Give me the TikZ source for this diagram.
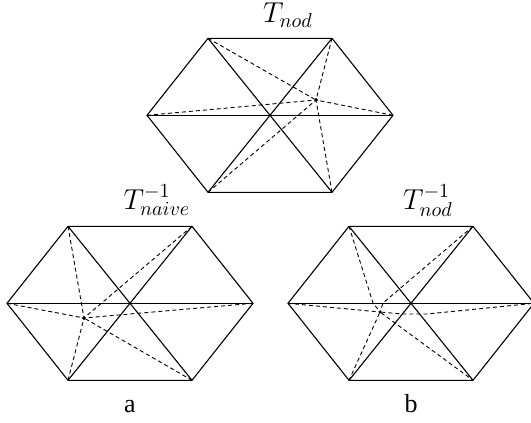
\documentclass[tikz,border=0pt]{standalone}
\usepackage{fontspec}
\setmainfont{Liberation Serif}

% hexagon split into six triangles, corners named from the first argument
\newcommand*{\hexagon}[3]{
	\coordinate (#1c) at (#2,#3);
	\coordinate (#1l) at (#2-123,#3);
	\coordinate (#1r) at (#2+123,#3);
	\coordinate (#1tl) at (#2-62,#3-77);
	\coordinate (#1tr) at (#2+62,#3-77);
	\coordinate (#1bl) at (#2-62,#3+77);
	\coordinate (#1br) at (#2+62,#3+77);
	\draw[edge] (#1l) -- (#1tl) -- (#1tr) -- (#1r) -- (#1br) -- (#1bl) -- cycle;
	\draw[edge] (#1l) -- (#1r);
	\draw[edge] (#1tl) -- (#1br);
	\draw[edge] (#1tr) -- (#1bl);
}

\begin{document}

\begin{tikzpicture}
[
	x=0.5pt,
	y=-0.5pt,
	edge/.style={line width=0.55pt},
	warp/.style={line width=0.45pt,dashed,dash pattern=on 2pt off 1.5pt},
	closedpt/.style={circle,draw,fill,inner sep=0pt,minimum size=1.5pt},
	caption/.style={anchor=base,font=\fontsize{13}{15}\selectfont},
	title/.style={anchor=base,font=\fontsize{14.5}{17}\selectfont}
]

	\useasboundingbox (0,0) rectangle (531,423);

	% top
	\hexagon{top}{270}{115.3}
	\node[closedpt] (topstar) at (316,100) {};
	\foreach \corner in {l,r,tl,tr,bl,br}
		\draw[warp] (top\corner) -- (topstar);
	\node[title] (toplabel) at (288,23) {$T_{nod}$};

	% naive inverse
	\hexagon{naive}{130}{303.3}
	\node[closedpt] (naivestar) at (84,318) {};
	\foreach \corner in {l,r,tl,tr,bl,br}
		\draw[warp] (naive\corner) -- (naivestar);
	\node[title] (naivelabel) at (157,209) {$T^{-1}_{naive}$};
	\node[caption] (a) at (130,412) {a};

	% nod inverse
	\hexagon{nod}{411}{303.3}
	\node[closedpt,minimum size=1pt] (nodstar) at (380,312) {};
	\coordinate (nodbend1) at (373,303);
	\coordinate (nodbend2) at (383,303);
	\coordinate (nodbend3) at (403,314);
	\coordinate (nodbend4) at (427,314);
	\draw[warp] (nodtl) -- (nodbend1) -- (nodstar) -- (nodbr);
	\draw[warp] (nodtr) -- (nodbend2) -- (nodstar) -- (nodbl);
	\draw[warp] (nodl) -- (nodstar) -- (nodbend3) -- (nodbend4) -- (nodr);
	\node[title] (nodlabel) at (428,209) {$T^{-1}_{nod}$};
	\node[caption] (b) at (411,412) {b};

\end{tikzpicture}

\end{document}
